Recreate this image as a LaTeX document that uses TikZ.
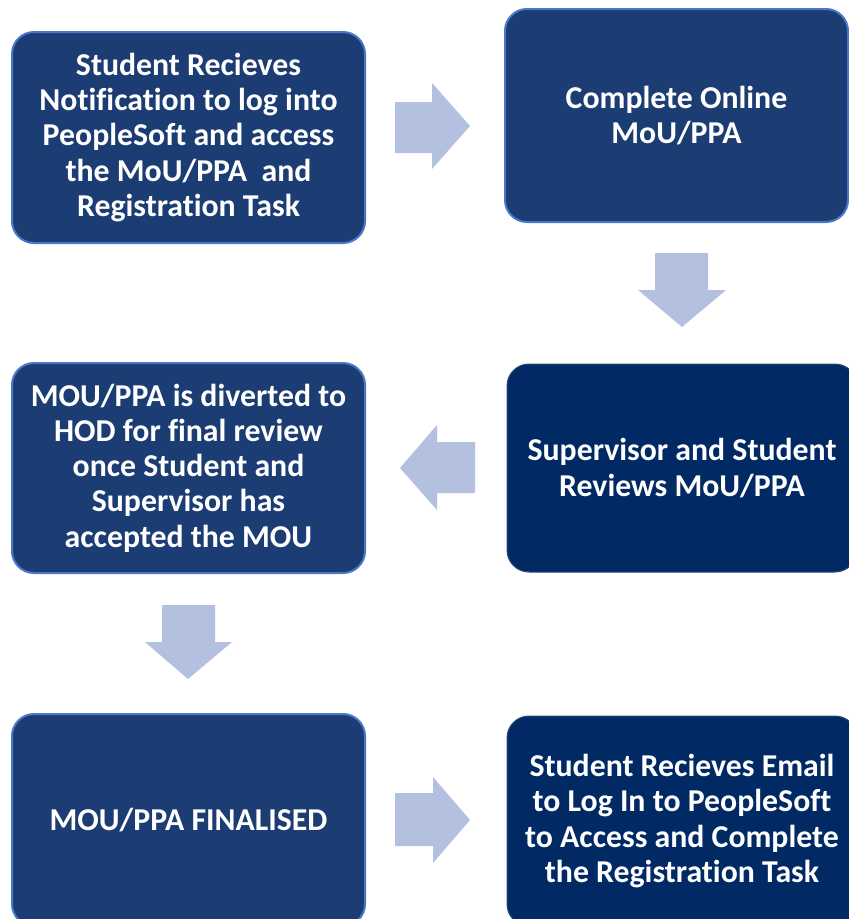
\documentclass[tikz,border=0pt]{standalone}
\usepackage{fontspec}
\setmainfont{Carlito}[Ligatures={NoCommon,NoContextual}, Contextuals=NoAlternate]
\newcommand{\tbrk}{t\kern0pt i}
\definecolor{boxblue}{HTML}{1C3D74}
\definecolor{boxdark}{HTML}{012A65}
\definecolor{edgeblue}{HTML}{4A78C8}
\definecolor{arrowfill}{HTML}{B3C0E0}
\tikzset{
  flowbox/.style={rectangle, rounded corners=22pt, fill=boxblue, draw=edgeblue, line width=2pt,
    text=white, font=\bfseries\fontsize{31.8}{35.3}\selectfont, align=center, inner sep=0pt},
  darkbox/.style={flowbox, fill=boxdark, draw=boxdark!85!white, line width=1pt},
  blockarrow/.style={fill=arrowfill, draw=none}
}
\begin{document}
\begin{tikzpicture}[x=1pt,y=-1pt]
\useasboundingbox (0,0) rectangle (849,919);
\clip (0,0) rectangle (849,919);
\fill[white] (0,0) rectangle (849,919);
% boxes
\node[flowbox, minimum width=353pt, minimum height=211pt] (b1) at (188.5,137.5)
  {Student Recieves\\Notifica\tbrk on to log into\\PeopleSoft and access\\the MoU/PPA\ \ and\\Registra\tbrk on Task};
\node[flowbox, minimum width=343pt, minimum height=213pt] (b2) at (676.5,115.5)
  {Complete Online\\MoU/PPA};
\node[darkbox, minimum width=350pt, minimum height=208pt] (b3) at (682,468)
  {Supervisor and Student\\Reviews MoU/PPA};
\node[flowbox, minimum width=353pt, minimum height=210pt] (b4) at (188.5,468)
  {MOU/PPA is diverted to\\HOD for final review\\once Student and\\Supervisor has\\accepted the MOU};
\node[flowbox, minimum width=353pt, minimum height=212pt] (b5) at (188.5,820)
  {MOU/PPA FINALISED};
\node[darkbox, minimum width=350pt, minimum height=210pt] (b6) at (682,821)
  {Student Recieves Email\\to Log In to PeopleSoft\\to Access and Complete\\the Registra\tbrk on Task};
% block arrows
\fill[blockarrow] (395,102) -- (432,102) -- (432,83) -- (470,126) -- (432,169) -- (432,153) -- (395,153) -- cycle;
\fill[blockarrow] (655,253) -- (708,253) -- (708,290) -- (726,290) -- (682,327) -- (638,290) -- (655,290) -- cycle;
\fill[blockarrow] (475,442) -- (437,442) -- (437,425) -- (400,468) -- (437,510) -- (437,493) -- (475,493) -- cycle;
\fill[blockarrow] (162,605) -- (215,605) -- (215,642) -- (232,642) -- (188,679) -- (145,642) -- (162,642) -- cycle;
\fill[blockarrow] (395,793) -- (433,793) -- (433,777) -- (470,820) -- (433,863) -- (433,846) -- (395,846) -- cycle;
\end{tikzpicture}
\end{document}
